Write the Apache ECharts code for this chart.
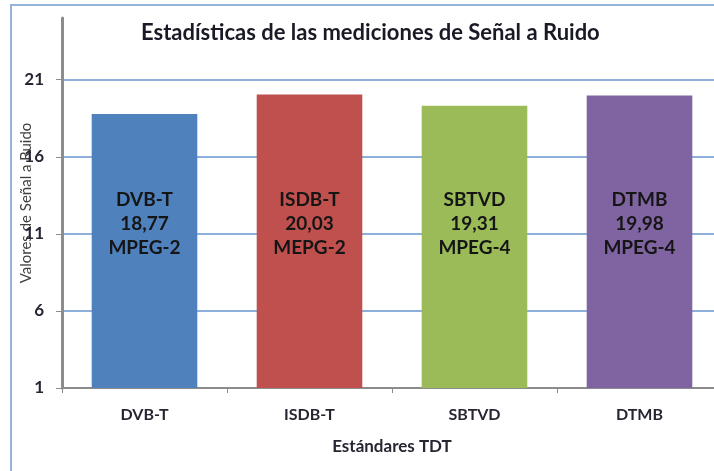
<!DOCTYPE html>
<html>
<head>
<meta charset="utf-8">
<script src="https://cdn.jsdelivr.net/npm/echarts@6/dist/echarts.min.js"></script>
<style>
  html, body { margin: 0; padding: 0; background: #fff; }
  #main { width: 714px; height: 471px; }
</style>
</head>
<body>
<div id="main"></div>
<script>
// estándares medidos y su relación señal/ruido
const categories = ['DVB-T', 'ISDB-T', 'SBTVD', 'DTMB'];
const snrValues = [18.77, 20.03, 19.31, 19.98];
const codecs = ['MPEG-2', 'MEPG-2', 'MPEG-4', 'MPEG-4'];
const yTicks = [1, 6, 11, 16, 21];

const barColors = ['#4F81BD', '#C0504D', '#9BBB59', '#8064A2'];
const font = 'Lato, "Open Sans", sans-serif';

const myChart = echarts.init(document.getElementById('main'));
myChart.setOption({
  backgroundColor: '#fff',
  animation: false,
  textStyle: { fontFamily: font },
  graphic: [{
    type: 'rect',
    shape: { x: 11, y: 5, width: 800, height: 600 },
    style: { fill: 'none', stroke: '#95B3D7', lineWidth: 2 },
    z: -1
  }],
  title: {
    text: 'Estadísticas de las mediciones de Señal a Ruido',
    left: 136,
    top: 17,
    textStyle: { fontSize: 22, fontWeight: 'bold', color: '#1a1a26', fontFamily: font }
  },
  grid: { left: 62, top: 18, right: -8, bottom: 83, outerBoundsMode: 'none', containLabel: false },
  xAxis: {
    type: 'category',
    data: categories,
    name: 'Estándares TDT',
    nameLocation: 'middle',
    nameGap: 50,
    nameMoveOverlap: false,
    nameTextStyle: { fontSize: 17, fontWeight: 'bold', color: '#262633' },
    axisLine: { lineStyle: { color: '#8c8c8c', width: 2 } },
    axisTick: { show: true, length: 5, lineStyle: { color: '#8c8c8c', width: 1 } },
    axisLabel: { margin: 19, fontSize: 16, fontWeight: 'bold', color: '#262633' }
  },
  yAxis: {
    type: 'value',
    min: 1,
    max: 25,
    interval: 5,
    name: 'Valores de Señal a Ruido',
    nameLocation: 'middle',
    nameGap: 28,
    nameMoveOverlap: false,
    nameTextStyle: { fontSize: 15, color: '#404040' },
    axisLine: { show: true, lineStyle: { color: '#8c8c8c', width: 3 } },
    axisTick: { show: true, length: 6, customValues: yTicks, lineStyle: { color: '#8c8c8c' } },
    axisLabel: { customValues: yTicks, margin: 18, fontSize: 17, fontWeight: 'bold', color: '#262633' },
    splitLine: { lineStyle: { color: '#8EB0DD', width: 2 } }
  },
  series: [{
    type: 'bar',
    barCategoryGap: '36%',
    data: snrValues.map((v, i) => ({ value: v, itemStyle: { color: barColors[i] } })),
    label: {
      show: true,
      position: 'insideBottom',
      distance: 128,
      fontSize: 19,
      lineHeight: 24,
      fontWeight: 'bold',
      color: '#151515',
      formatter: p => categories[p.dataIndex] + '\n' +
        snrValues[p.dataIndex].toFixed(2).replace('.', ',') + '\n' + codecs[p.dataIndex]
    }
  }]
});
</script>
</body>
</html>
